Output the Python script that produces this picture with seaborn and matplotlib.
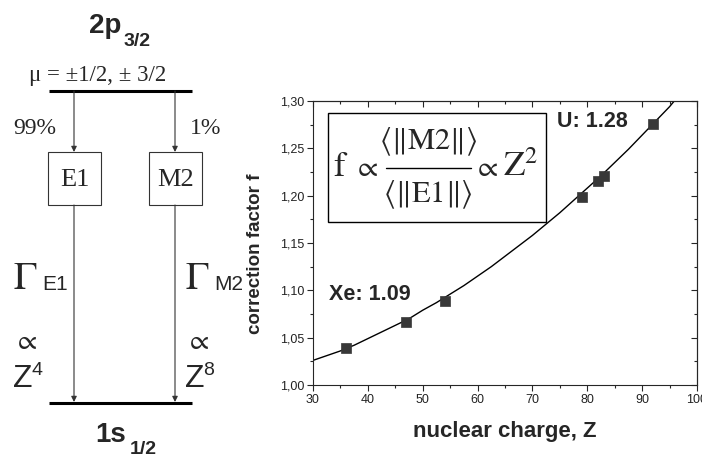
import numpy as np
import matplotlib
matplotlib.use("Agg")
import matplotlib.pyplot as plt
from matplotlib.ticker import MultipleLocator, FuncFormatter
from matplotlib.patches import Rectangle
import seaborn as sns

# measured correction factors
Z_pts = [36, 47, 54, 79, 82, 83, 92]
f_pts = [1.039, 1.067, 1.089, 1.199, 1.215, 1.221, 1.276]

# fitted curve
Z_fit = [30, 32.5, 35, 37.5, 40, 42.5, 45, 47.5, 50, 52.5, 55, 57.5, 60, 62.5,
         65, 67.5, 70, 72.5, 75, 77.5, 80, 82.5, 85, 87.5, 90, 92.5, 95, 96]
f_fit = [1.026, 1.031, 1.036, 1.042, 1.049, 1.056, 1.063, 1.070, 1.079, 1.087,
         1.096, 1.105, 1.115, 1.125, 1.136, 1.147, 1.158, 1.170, 1.182, 1.195,
         1.208, 1.221, 1.235, 1.249, 1.264, 1.279, 1.294, 1.301]

x_ticks = [30, 40, 50, 60, 70, 80, 90, 100]
y_ticks = [1.00, 1.05, 1.10, 1.15, 1.20, 1.25, 1.30]

sns.set_style("ticks")
plt.rcParams['font.family'] = ['Liberation Sans', 'DejaVu Sans']
plt.rcParams['mathtext.fontset'] = 'stix'

fig = plt.figure(figsize=(7.02, 4.58), dpi=100)

# ---- correction factor plot ----
ax = fig.add_axes([313 / 702, 1 - 385 / 458, 384 / 702, 284 / 458])
sns.lineplot(x=Z_fit, y=f_fit, ax=ax, color='black', lw=1)
sns.scatterplot(x=Z_pts, y=f_pts, ax=ax, marker='s', s=42,
                color='#383838', edgecolor='#383838', linewidth=0.5, zorder=3)

ax.set_xlim(30, 100)
ax.set_ylim(1.00, 1.30)
ax.set_xticks(x_ticks)
ax.set_yticks(y_ticks)
ax.xaxis.set_minor_locator(MultipleLocator(5))
ax.yaxis.set_minor_locator(MultipleLocator(0.025))
ax.yaxis.set_major_formatter(FuncFormatter(lambda v, p: f'{v:.2f}'.replace('.', ',')))
ax.tick_params(which='major', direction='out', length=4.5, width=0.8,
               labelsize=9, pad=2, labelcolor='#222222')
ax.tick_params(which='minor', direction='out', length=2.5, width=0.8)
for s in ax.spines.values():
    s.set_linewidth(0.8)

top = ax.secondary_xaxis('top')
top.set_xticks(x_ticks)
top.xaxis.set_minor_locator(MultipleLocator(5))
top.tick_params(which='major', direction='in', length=4.5, width=0.8, labeltop=False)
top.tick_params(which='minor', direction='in', length=2.5, width=0.8)
right = ax.secondary_yaxis('right')
right.set_yticks(y_ticks)
right.yaxis.set_minor_locator(MultipleLocator(0.025))
right.tick_params(which='major', direction='in', length=4.5, width=0.8, labelright=False)
right.tick_params(which='minor', direction='in', length=2.5, width=0.8)

ax.set_xlabel('nuclear charge, Z', fontsize=16, fontweight='bold')
ax.xaxis.set_label_coords(0.5, -0.125)
ax.set_ylabel('correction factor f', fontsize=13.5, fontweight='bold')
ax.yaxis.set_label_coords(-0.128, 0.461)

ax.text(32.9, 1.096, 'Xe: 1.09', fontsize=15.5, fontweight='bold',
        ha='left', va='center')
ax.text(87.3, 1.278, 'U: 1.28', fontsize=15.5, fontweight='bold',
        ha='right', va='center')

# ---- overlay in pixel coordinates: level diagram and formula box ----
ad = fig.add_axes([0, 0, 1, 1], zorder=5)
ad.set_xlim(0, 702)
ad.set_ylim(458, 0)
ad.axis('off')
ad.patch.set_alpha(0)

serif = 'Liberation Serif'
dark = '#333333'

ad.text(89, 33, '2p', ha='left', va='baseline', fontsize=20, fontweight='bold')
ad.text(124, 46, '3/2', ha='left', va='baseline', fontsize=14, fontweight='bold')
ad.text(98, 75, 'μ = ±1/2, ± 3/2', ha='center', va='center',
        fontsize=16.5, family=serif)
ad.plot([49, 192], [91, 91], color='black', lw=2.2, solid_capstyle='butt')
ad.plot([49, 192], [403, 403], color='black', lw=2.2, solid_capstyle='butt')

for xc, lab, pct, px in [(74, 'E1', '99%', 35), (175, 'M2', '1%', 206)]:
    ad.annotate('', xy=(xc, 152), xytext=(xc, 91),
                arrowprops=dict(arrowstyle='-|>', color=dark, lw=0.8,
                                mutation_scale=8, shrinkA=0, shrinkB=0))
    ad.annotate('', xy=(xc, 402), xytext=(xc, 205),
                arrowprops=dict(arrowstyle='-|>', color=dark, lw=0.8,
                                mutation_scale=8, shrinkA=0, shrinkB=0))
    ad.add_patch(Rectangle((xc - 26, 152), 53, 53, fill=False,
                           edgecolor=dark, lw=0.8))
    ad.text(xc + 0.5, 180, lab, ha='center', va='center', fontsize=19, family=serif)
    ad.text(px, 129, pct, ha='center', va='center', fontsize=17, family=serif)

for x0, sub, pw in [(13, 'E1', '4'), (185, 'M2', '8')]:
    ad.text(x0, 289, r'$\Gamma$', ha='left', va='baseline', fontsize=28)
    ad.text(x0 + 29, 290, sub, ha='left', va='baseline', fontsize=15)
    ad.text(x0, 342, r'$\propto$', ha='left', va='center', fontsize=20)
    ad.text(x0, 387, 'Z', ha='left', va='baseline', fontsize=23)
    ad.text(x0 + 18, 375, pw, ha='left', va='baseline', fontsize=14)

ad.text(95, 442, '1s', ha='left', va='baseline', fontsize=20, fontweight='bold')
ad.text(130, 454, '1/2', ha='left', va='baseline', fontsize=14, fontweight='bold')

# formula box
ad.add_patch(Rectangle((328, 113), 218, 109, fill=False, edgecolor='black', lw=1))
ad.text(333, 167, r'$\mathrm{f}$', ha='left', va='center', fontsize=25)
ad.text(353, 168, r'$\propto$', ha='left', va='center', fontsize=21)
ad.text(428, 142, r'$\langle\Vert\mathrm{M2}\Vert\rangle$', ha='center',
        va='center', fontsize=22)
ad.plot([386, 471], [168, 168], color='black', lw=1)
ad.text(428, 195, r'$\langle\Vert\mathrm{E1}\Vert\rangle$', ha='center',
        va='center', fontsize=22)
ad.text(473, 168, r'$\propto$', ha='left', va='center', fontsize=21)
ad.text(503, 167, r'$\mathrm{Z}^{2}$', ha='left', va='center', fontsize=25)

fig.savefig('out.png', dpi=100)
